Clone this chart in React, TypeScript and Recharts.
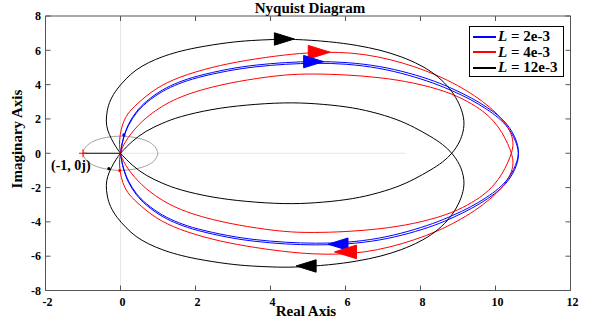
import React from 'react';
import { ScatterChart, Scatter, XAxis, YAxis, ReferenceLine, ReferenceDot } from 'recharts';

const xTicks = [-2, 0, 2, 4, 6, 8, 10, 12];
const yTicks = [-8, -6, -4, -2, 0, 2, 4, 6, 8];

// positive-frequency branch of each loop: origin -> upper arc -> right side -> lower arc -> origin
const blueBranch: [number, number][] = [
  [0, 0], [0.03, 0.45], [0.08, 0.95], [0.2, 1.7], [0.42, 2.45], [0.67, 3.02], [1.11, 3.72],
  [1.55, 4.15], [2.0, 4.49], [2.89, 4.93], [3.6, 5.15], [4.4, 5.3], [5.2, 5.36], [6.04, 5.31],
  [6.93, 5.08], [7.7, 4.68], [8.4, 4.2], [8.9, 3.72], [9.37, 3.22], [9.8, 2.65], [10.15, 2.08],
  [10.38, 1.5], [10.52, 0.95], [10.6, 0.45], [10.62, 0], [10.58, -0.45], [10.49, -0.95],
  [10.34, -1.5], [10.1, -2.05], [9.75, -2.6], [9.33, -3.15], [8.87, -3.62], [8.35, -4.1],
  [7.65, -4.58], [6.9, -4.98], [6.0, -5.22], [5.2, -5.26], [4.4, -5.2], [3.6, -5.05],
  [2.89, -4.83], [2.0, -4.4], [1.55, -4.06], [1.11, -3.63], [0.67, -2.94], [0.42, -2.38],
  [0.2, -1.63], [0.08, -0.9], [0.03, -0.42], [0, 0],
];

const redBranch: [number, number][] = [
  [0, 0], [-0.04, 0.5], [-0.01, 1.1], [0.05, 1.7], [0.18, 2.3], [0.42, 2.85], [0.93, 3.79],
  [1.55, 4.45], [2.44, 5.03], [3.33, 5.42], [4.4, 5.75], [5.15, 5.88], [5.8, 5.9], [6.5, 5.78],
  [7.2, 5.47], [7.82, 5.07], [8.45, 4.55], [9.0, 3.95], [9.45, 3.35], [9.85, 2.7], [10.18, 2.0],
  [10.4, 1.3], [10.49, 0.6], [10.43, 0], [10.33, -0.55], [10.18, -1.2], [9.97, -1.85],
  [9.68, -2.45], [9.27, -3.02], [8.71, -3.6], [7.82, -4.12], [6.93, -4.42], [6.0, -4.58],
  [5.15, -4.63], [4.4, -4.6], [3.33, -4.27], [2.6, -3.95], [2.0, -3.6], [1.5, -3.2],
  [1.11, -2.75], [0.75, -2.2], [0.49, -1.68], [0.28, -1.15], [0.13, -0.68], [0.04, -0.3], [0, 0],
];

const blackBranch: [number, number][] = [
  [0, 0], [-0.12, 0.35], [-0.25, 0.85], [-0.35, 1.35], [-0.39, 1.85], [-0.36, 2.5], [-0.28, 3.1],
  [-0.1, 3.75], [0.15, 4.35], [0.4, 4.86], [0.75, 5.3], [1.11, 5.63], [1.5, 5.9], [2.0, 6.16],
  [2.89, 6.47], [3.5, 6.58], [4.04, 6.63], [4.6, 6.66], [5.6, 6.51], [6.3, 6.3], [6.93, 6.02],
  [7.5, 5.63], [8.0, 5.15], [8.4, 4.6], [8.72, 3.95], [8.95, 3.25], [9.1, 2.55], [9.17, 1.9],
  [9.15, 1.3], [9.05, 0.65], [8.85, 0], [8.6, -0.52], [8.27, -0.98], [7.85, -1.5],
  [7.38, -1.98], [6.7, -2.43], [6.04, -2.72], [5.2, -2.9], [4.4, -2.97], [3.33, -2.82],
  [2.44, -2.58], [1.55, -2.13], [1.11, -1.75], [0.67, -1.3], [0.3, -0.7], [0, 0],
];

const unitCircle: [number, number][] = [
  [1, 0], [0.92, 0.38], [0.71, 0.71], [0.38, 0.92], [0, 1], [-0.38, 0.92], [-0.71, 0.71],
  [-0.92, 0.38], [-1, 0], [-0.92, -0.38], [-0.71, -0.71], [-0.38, -0.92], [0, -1],
  [0.38, -0.92], [0.71, -0.71], [0.92, -0.38], [1, 0],
];

const arrowPoints = [
  { x: 4.37, y: 6.66, dir: 1, color: '#000000', s: 10 },
  { x: 5.3, y: 5.89, dir: 1, color: '#ff0000', s: 11 },
  { x: 5.15, y: 5.34, dir: 1, color: '#0000ff', s: 10 },
  { x: 5.8, y: -5.3, dir: -1, color: '#0000ff', s: 10 },
  { x: 6.0, y: -5.75, dir: -1, color: '#ff0000', s: 11 },
  { x: 4.95, y: -6.57, dir: -1, color: '#000000', s: 10 },
];

const crossingPoints = [
  { x: 0.09, y: 1.07, color: '#0000ff' },
  { x: -0.02, y: -1.01, color: '#ff0000' },
  { x: -0.31, y: -0.9, color: '#000000' },
];

const series = [
  { label: '2e-3', color: '#0000ff', branch: blueBranch },
  { label: '4e-3', color: '#ff0000', branch: redBranch },
  { label: '12e-3', color: '#000000', branch: blackBranch },
];

const toPts = (arr: [number, number][]) => arr.map(([x, y]) => ({ x, y }));
const mirrored = (arr: [number, number][]) => arr.map(([x, y]) => ({ x, y: -y }));

const font = '"Liberation Serif", "Times New Roman", serif';
const noDot = () => <g />;

const Arrow = (props: any) => {
  const { cx, cy, payload } = props;
  const s = payload.s;
  const d = payload.dir;
  const h = s * 0.62;
  const pts = `${cx + d * s},${cy} ${cx - d * s},${cy - h} ${cx - d * s},${cy + h}`;
  return <polygon points={pts} fill={payload.color} stroke={payload.color} />;
};

const Crossing = (props: any) => {
  const { cx, cy, payload } = props;
  return <circle cx={cx} cy={cy} r={1.6} fill={payload.color} />;
};

const MinusOne = (props: any) => {
  const { cx, cy } = props;
  return (
    <g>
      <line x1={cx - 4} y1={cy} x2={cx + 4} y2={cy} stroke="#ff0000" strokeWidth={1} />
      <line x1={cx} y1={cy - 4} x2={cx} y2={cy + 4} stroke="#ff0000" strokeWidth={1} />
      <text x={cx - 32} y={cy + 17} fontFamily={font} fontWeight="bold" fontSize={14} fill="#000">
        (-1, 0j)
      </text>
    </g>
  );
};

const tickStyle = { fontFamily: font, fontWeight: 'bold' as const, fontSize: 12, fill: '#000' };

const textStyle = {
  fontFamily: font, fontWeight: 'bold' as const, fontSize: 15, lineHeight: '15px', whiteSpace: 'nowrap' as const,
};

export default function App() {
  return (
    <div style={{ position: 'absolute', left: 0, top: 0, width: 594, height: 325, background: '#fff' }}>
      <ScatterChart
        width={594}
        height={325}
        margin={{ top: 15, right: 22.5, bottom: 14.5, left: 15.5 }}
      >
        <XAxis
          type="number"
          dataKey="x"
          domain={[-2, 12]}
          ticks={xTicks}
          allowDataOverflow
          height={20}
          tickSize={-5}
          tickMargin={12}
          stroke="#555"
          tick={tickStyle}
          dx={2}
        />
        <XAxis
          xAxisId="top"
          orientation="top"
          type="number"
          dataKey="x"
          domain={[-2, 12]}
          ticks={xTicks}
          allowDataOverflow
          height={1}
          tickSize={-5}
          stroke="#555"
          tick={noDot}
        />
        <YAxis
          type="number"
          dataKey="y"
          domain={[-8, 8]}
          ticks={yTicks}
          allowDataOverflow
          width={30}
          tickSize={-5}
          tickMargin={9.5}
          stroke="#555"
          tick={tickStyle}
        />
        <YAxis
          yAxisId="right"
          orientation="right"
          type="number"
          dataKey="y"
          domain={[-8, 8]}
          ticks={yTicks}
          allowDataOverflow
          width={1}
          tickSize={-5}
          stroke="#555"
          tick={noDot}
        />
        <ReferenceLine x={0} stroke="#e6e6e6" strokeWidth={1} />
        <ReferenceLine segment={[{ x: 0, y: 0 }, { x: 7.6, y: 0 }]} stroke="#e6e6e6" strokeWidth={1} />
        <ReferenceLine segment={[{ x: -1, y: 0 }, { x: 0, y: 0 }]} stroke="#000" strokeWidth={1} />
        <Scatter
          data={toPts(unitCircle)}
          line={{ stroke: '#a0a0a0', strokeWidth: 1 }}
          lineJointType="natural"
          shape={noDot}
          isAnimationActive={false}
        />
        {series.map((s) => (
          <Scatter
            key={s.label + 'n'}
            data={mirrored(s.branch)}
            line={{ stroke: s.color, strokeWidth: 1 }}
            lineJointType="basis"
            shape={noDot}
            isAnimationActive={false}
          />
        ))}
        {series.map((s) => (
          <Scatter
            key={s.label + 'p'}
            data={toPts(s.branch)}
            line={{ stroke: s.color, strokeWidth: 1 }}
            lineJointType="basis"
            shape={noDot}
            isAnimationActive={false}
          />
        ))}
        <Scatter data={arrowPoints} shape={<Arrow />} isAnimationActive={false} />
        <Scatter data={crossingPoints} shape={<Crossing />} isAnimationActive={false} />
        <ReferenceDot x={-1} y={0} r={4} shape={<MinusOne />} />
      </ScatterChart>

      <div style={{ ...textStyle, position: 'absolute', left: 0, width: 620, top: 1, textAlign: 'center' }}>
        Nyquist Diagram
      </div>
      <div style={{ ...textStyle, position: 'absolute', left: 0, width: 612, top: 304, textAlign: 'center' }}>
        Real Axis
      </div>
      <div style={{ position: 'absolute', left: 18, top: 139, width: 0, height: 0 }}>
        <div
          style={{
            ...textStyle, position: 'absolute', left: -60, top: -8, width: 120, textAlign: 'center',
            transform: 'rotate(-90deg)', transformOrigin: '60px 8px',
          }}
        >
          Imaginary Axis
        </div>
      </div>
      <div
        style={{
          position: 'absolute', left: 469, top: 26, width: 95, height: 51, boxSizing: 'border-box',
          border: '1px solid #000', background: '#fff', padding: '2px 0 0 3px',
        }}
      >
        {series.map((s) => (
          <div key={s.label} style={{ display: 'flex', alignItems: 'center', height: 15.5 }}>
            <svg width={23} height={4} style={{ marginRight: 2 }}>
              <line x1={0} y1={2} x2={23} y2={2} stroke={s.color} strokeWidth={2} />
            </svg>
            <span style={textStyle}>
              <i>L</i> = {s.label}
            </span>
          </div>
        ))}
      </div>
    </div>
  );
}
